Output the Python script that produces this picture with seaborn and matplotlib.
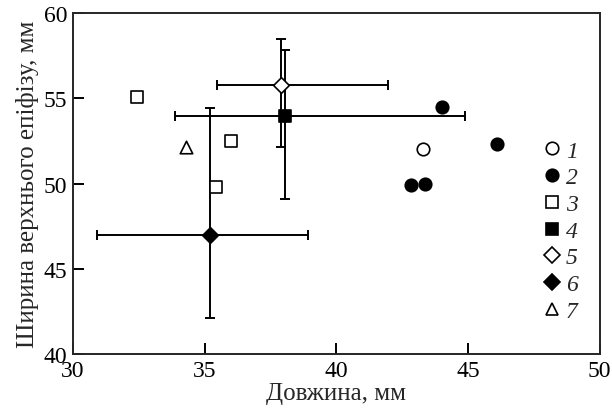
import numpy as np
import matplotlib
matplotlib.use('Agg')
import matplotlib.pyplot as plt
import seaborn as sns
from matplotlib.lines import Line2D

# дані
s1_x = [43.3]
s1_y = [52.0]
s2_x = [44.0, 46.1, 42.85, 43.35]
s2_y = [54.5, 52.3, 49.9, 50.0]
s3_x = [32.45, 36.0, 35.45]
s3_y = [55.1, 52.5, 49.8]
s4_x = [38.05]
s4_y = [53.95]
s4_xerr = [[4.17], [6.84]]
s4_yerr = [[4.86], [3.9]]
s5_x = [37.9]
s5_y = [55.8]
s5_xerr = [[2.44], [4.08]]
s5_yerr = [[3.66], [2.66]]
s6_x = [35.2]
s6_y = [47.0]
s6_xerr = [[4.29], [3.71]]
s6_yerr = [[4.9], [7.45]]
s7_x = [34.3]
s7_y = [52.15]

labels = ['1', '2', '3', '4', '5', '6', '7']

sns.set_theme(style='ticks')
plt.rcParams['font.family'] = ['Liberation Serif', 'DejaVu Serif']
plt.rcParams['axes.linewidth'] = 1.4

fig = plt.figure(figsize=(6.12, 4.10), dpi=100)
ax = fig.add_axes([0.119, 0.134, 0.861, 0.832])

# похибки
for x, y, xe, ye in [(s4_x, s4_y, s4_xerr, s4_yerr),
                     (s5_x, s5_y, s5_xerr, s5_yerr),
                     (s6_x, s6_y, s6_xerr, s6_yerr)]:
    ax.errorbar(x, y, xerr=xe, yerr=ye, fmt='none', ecolor='black',
                elinewidth=1.4, capsize=3.5, capthick=1.4, zorder=2)

series = [
    (s1_x, s1_y, 'o', 'white', 9),
    (s2_x, s2_y, 'o', 'black', 9),
    (s3_x, s3_y, 's', 'white', 8),
    (s4_x, s4_y, 's', 'black', 8),
    (s5_x, s5_y, 'D', 'white', 8),
    (s6_x, s6_y, 'D', 'black', 8),
    (s7_x, s7_y, '^', 'white', 9),
]
handles = []
for (x, y, m, fc, ms), lab in zip(series, labels):
    sns.scatterplot(x=x, y=y, marker=m, color=fc, edgecolor='black',
                    linewidth=1.2, s=ms ** 2, ax=ax, zorder=3)
    handles.append(Line2D([], [], linestyle='none', marker=m, markersize=ms,
                          markerfacecolor=fc, markeredgecolor='black',
                          markeredgewidth=1.2))

ax.set_xlim(30, 50)
ax.set_ylim(40, 60)
ax.set_xticks([30, 35, 40, 45, 50])
ax.set_yticks([40, 45, 50, 55, 60])
ax.tick_params(direction='in', length=8, width=1.4, labelsize=17, pad=4,
               colors='black')
ax.set_xlabel('Довжина, мм', fontsize=18, labelpad=1)
ax.set_ylabel('Ширина верхнього епіфізу, мм', fontsize=18, labelpad=3)

ax.legend(handles, labels, loc='upper left', bbox_to_anchor=(0.875, 0.655),
          frameon=False, handlelength=0.7, handletextpad=0.25,
          labelspacing=0.22, borderaxespad=0,
          prop={'style': 'italic', 'size': 17})

fig.savefig('out.png', dpi=100)
